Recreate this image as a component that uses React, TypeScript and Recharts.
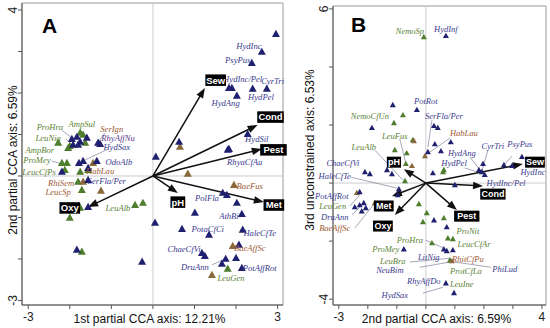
import React from 'react';
import { ScatterChart, Scatter, XAxis, YAxis, ReferenceLine, ReferenceDot, ReferenceArea, Label } from 'recharts';

type P = [number, number];

// ---------- Panel A ----------
const aNavy: P[] = [
  [-1.95, 0.89], [-1.83, 0.94], [-1.75, 0.82], [-1.92, 0.75], [-1.59, 0.92], [-1.8, 0.75], [-1.32, 0.8], [-1.27, 0.77],
  [-1.68, 0.36], [-1.78, 0.31], [-1.35, 0.36], [-2.19, 0.1], [-1.56, 0.19], [-1.56, -0.1], [-1.56, -0.75], [-1.83, -1.78],
  [2.96, 3.42], [2.62, 2.99], [2.38, 2.72], [1.83, 2.12], [1.9, 2.12], [2.02, 1.93], [2.4, 2.1], [2.74, 2.1], [2.28, 1.01],
  [1.83, 0.65], [0.63, 0.82], [0.07, 0.46], [1.8, 0.63], [1.68, -0.41], [1.78, -0.46], [2.02, -0.65], [1.01, -0.89],
  [2.14, -0.92], [0.05, -1.13], [0.7, -1.28], [1.35, -1.42], [2.16, -1.3], [2.07, -1.66], [1.18, -1.86], [1.25, -1.93],
  [1.75, -2.0], [2.0, -1.98], [1.66, -2.12], [2.14, -2.22], [-0.26, -2.07],
];
const aGreen: P[] = [
  [-2.28, 0.8], [-1.75, 1.04], [-1.68, 0.99], [-2.0, 0.72], [-1.63, 0.8], [-2.04, 0.67], [-2.19, 0.31], [-2.07, 0.31],
  [-2.12, 0.14], [-1.75, 0.1], [-1.56, 0.14], [-1.8, -0.14], [-1.71, -0.34], [-1.75, -0.77], [-2.0, -1.01], [-1.71, -1.83],
  [-0.43, -0.7], [-0.24, -0.65], [1.8, -2.24],
];
const aBrown: P[] = [
  [-1.44, 0.31], [-1.68, -0.14], [-1.25, -0.36], [0.65, 0.7], [0.84, 0.05], [1.95, -0.22], [1.92, -1.69], [1.42, -2.39],
];
const aEnvNames = ['Sew', 'Cond', 'Pest', 'Met', 'pH', 'Oxy'];
const aEnvTips: P[] = [[1.25, 2.12], [2.52, 1.23], [2.62, 0.65], [2.67, -0.63], [0.6, -0.41], [-1.56, -0.75]];
const aEnvLabelPos: P[] = [[1.51, 2.31], [2.83, 1.42], [2.9, 0.63], [2.91, -0.7], [0.6, -0.63], [-2.0, -0.77]];
const aLabelText = [
  'ProHra', 'LeuNig', 'AmpSul', 'AmpBor', 'ProMey', 'LeucCfPs', 'SerIgn', 'RhyAffNu', 'HydSax', 'OdoAlb', 'HabLau',
  'SerFla/Per', 'RhiSem', 'LeucSp', 'LeuAlb', 'HydInc', 'PsyPus', 'HydInc/Pel', 'CyrTri', 'HydAng', 'HydPel', 'HydSil',
  'RhyaCfAu', 'BaeFus', 'PolFla', 'AthBi', 'PotaCfCi', 'HaleCfTe', 'BaeAffSc', 'ChaeCfVi', 'DruAnn', 'PotAffRot', 'LeuGen',
];
const aLabelPos: P[] = [
  [-2.48, 1.17], [-2.52, 0.92], [-1.71, 1.25], [-2.72, 0.62], [-2.79, 0.37], [-2.74, 0.09], [-0.99, 1.14], [-0.84, 0.91],
  [-0.87, 0.69], [-0.82, 0.34], [-1.27, 0.12], [-1.11, -0.12], [-2.21, -0.17], [-2.28, -0.38], [-0.84, -0.77], [2.31, 3.13],
  [2.04, 2.8], [2.16, 2.34], [2.88, 2.29], [1.75, 1.76], [2.6, 1.9], [2.5, 0.89], [2.21, 0.34], [2.33, -0.24], [1.3, -0.53],
  [1.83, -0.96], [1.32, -1.28], [2.57, -1.37], [2.33, -1.73], [0.75, -1.76], [1.01, -2.19], [2.57, -2.22], [1.88, -2.46],
];
const aLabelTone = [
  'g', 'g', 'g', 'g', 'g', 'g', 'b', 'p', 'n', 'n', 'b', 'n', 'b', 'b', 'g', 'n', 'n', 'n', 'n', 'n', 'n', 'n', 'n', 'b',
  'n', 'n', 'n', 'n', 'b', 'n', 'n', 'n', 'g',
];
const aLeaders: [P, P][] = [
  [[-2.19, 1.1], [-1.88, 0.87]], [[-2.1, 0.9], [-1.95, 0.75]], [[-2.43, 0.36], [-2.19, 0.29]], [[-1.15, 1.04], [-1.32, 0.82]],
  [[-1.09, 0.64], [-1.63, 0.39]], [[1.42, -2.14], [1.75, -2.0]],
];
const aXTicks = [-3, -2, -1, 0, 1, 2, 3];
const aYTicks = [-3, -2, -1, 0, 1, 2, 3, 4];
const aXDomain: P = [-3.15, 3.13];
const aYDomain: P = [-3.11, 4.17];

// ---------- Panel B ----------
const bNavy: P[] = [
  [0.69, 5.07], [-0.31, 2.52], [0.28, 1.97], [0.41, 1.9], [0.31, 1.34], [0.86, 1.41], [0.52, 1.1], [0.07, 1.07], [3.31, 0.9],
  [-1.14, 2.69], [-1.86, 1.9], [-2.1, 0.38], [-1.93, 0.31], [-1.34, 0.45], [-1.17, 0.31], [-0.93, -0.21], [-0.97, -0.41],
  [-2.28, -0.31], [-2.45, -0.83], [-2.28, -0.76], [-2.14, -0.69], [-2.07, -0.86], [-2.21, -0.97], [-0.76, -2.28],
  [1.97, 0.66], [1.83, 0.45], [1.93, 0.38], [2.03, 0.28], [2.69, 0.62], [2.97, 0.59], [0.24, 0.34], [1.0, -0.07],
  [0.28, -1.28], [0.72, -1.52], [0.62, -2.28], [0.72, -2.34], [0.93, -2.31], [0.69, -3.45], [0.97, -3.79],
];
const bGreen: P[] = [
  [-0.07, 5.03], [-0.79, 2.34], [-1.1, 2.07], [-0.45, 1.48], [-0.66, 1.03], [-1.07, 1.14], [-0.69, 0.66], [-0.72, 0.07],
  [0.59, 0.38], [0.62, 0.45], [-0.24, -0.72], [0.03, -1.03], [-0.1, -1.34], [0.62, -1.21], [0.76, -1.9], [0.93, -1.93],
  [0.21, -2.07], [0.83, -2.66],
];
const bBrown: P[] = [[-0.41, 1.45], [-0.03, 0.93], [-0.48, 0.59], [-2.38, -0.34], [-1.76, -0.69], [0.9, -2.69]];
const bEnvNames = ['Sew', 'Cond', 'Pest', 'pH', 'Met', 'Oxy'];
const bEnvTips: P[] = [[3.34, 0.66], [1.97, -0.1], [1.07, -0.93], [-0.76, 0.48], [-1.17, -0.45], [-1.07, -1.1]];
const bEnvLabelPos: P[] = [[3.76, 0.72], [2.31, -0.38], [1.41, -1.14], [-1.1, 0.72], [-1.45, -0.79], [-1.48, -1.48]];
const bLabelText = [
  'NemoSp', 'HydInf', 'PotRot', 'SerFla/Per', 'HabLau', 'HydAng', 'CyrTri', 'PsyPus', 'HydPel', 'HydInc', 'HydInc/Pel',
  'NemoCfUn', 'LeuFus', 'LeuAlb', 'ChaeCfVi', 'HaleCfTe', 'PotAffRot', 'LeuGen', 'DruAnn', 'BaeAffSc', 'ProHra', 'ProMey',
  'LeuBra', 'LitNig', 'NeuBim', 'RhitCfPu', 'ProtCfLa', 'PhiLud', 'RhyAffDo', 'LeuIne', 'HydSax', 'ProNit', 'LeucCfAr',
];
const bLabelPos: P[] = [
  [-0.55, 5.24], [0.69, 5.31], [0.0, 2.83], [0.62, 2.31], [1.31, 1.72], [1.24, 1.03], [2.31, 1.28], [3.24, 1.34], [0.97, 0.69],
  [3.69, 0.38], [2.76, 0.0], [-1.93, 2.31], [-1.07, 1.62], [-2.14, 1.24], [-2.86, 0.69], [-3.14, 0.24], [-3.24, -0.45],
  [-3.21, -0.79], [-3.14, -1.17], [-3.14, -1.55], [-0.55, -1.97], [-1.38, -2.28], [-1.14, -2.69], [0.1, -2.55], [-1.24, -3.0],
  [1.45, -2.62], [1.38, -3.03], [2.72, -2.97], [-0.07, -3.38], [1.24, -3.48], [-1.07, -3.86], [1.45, -1.66], [1.66, -2.1],
];
const bLabelTone = [
  'g', 'n', 'n', 'n', 'b', 'n', 'n', 'n', 'n', 'n', 'n', 'g', 'g', 'g', 'n', 'n', 'n', 'g', 'n', 'b', 'g', 'g', 'g', 'n', 'n',
  'b', 'g', 'n', 'n', 'g', 'n', 'g', 'g',
];
const bLeaders: [P, P][] = [
  [[0.21, 2.17], [0.07, 1.24]], [[0.83, 1.55], [0.14, 1.07]], [[1.52, 0.9], [1.86, 0.45]], [[2.14, 1.14], [1.93, 0.41]],
  [[2.97, 0.93], [2.69, 0.62]], [[1.34, 0.52], [1.79, 0.38]], [[-2.62, 0.21], [-1.0, -0.17]], [[-2.62, -0.79], [-2.28, -0.41]],
  [[-2.55, -1.1], [-2.21, -0.76]], [[-2.45, -1.55], [-1.76, -0.69]], [[-0.9, 1.52], [-0.69, 0.69]], [[-1.76, 1.14], [-0.79, 0.1]],
  [[0.0, -1.97], [0.62, -2.24]], [[-0.55, -2.72], [0.83, -2.59]], [[-0.21, -2.9], [0.83, -2.72]], [[2.24, -2.9], [1.0, -2.72]],
  [[-0.1, -3.79], [0.59, -3.59]],
];
const bXTicks = [-3, -2, -1, 0, 1, 2, 3, 4];
const bYTicks = [-4, -2, 0, 2, 4, 6];
const bXDomain: P = [-3.2, 4.14];
const bYDomain: P = [-4.2, 6.1];

// ---------- styles ----------
const TRI: Record<string, string> = { n: '#202070', g: '#4d7d2d', b: '#8a683a' };
const TXT: Record<string, string> = { n: '#3a3a8e', g: '#5b8236', b: '#9d5834', p: '#5e3a8e' };
const SANS = '"Liberation Sans", Arial, sans-serif';
const SERIF = '"Liberation Serif", "Times New Roman", serif';

const triShape = (color: string, s: number) => (p: any) => {
  const { cx, cy } = p;
  if (cx == null || cy == null) return <g />;
  const h = s * 0.9;
  return (
    <polygon
      points={`${cx},${cy - h * 0.6} ${cx - s / 2},${cy + h * 0.4} ${cx + s / 2},${cy + h * 0.4}`}
      fill={color}
    />
  );
};

const arrowShape = (p: any) => {
  const x1 = Number(p.x1), y1 = Number(p.y1), x2 = Number(p.x2), y2 = Number(p.y2);
  const dx = x2 - x1, dy = y2 - y1;
  const len = Math.hypot(dx, dy) || 1;
  const ux = dx / len, uy = dy / len;
  const hl = 10, hw = 3.8;
  const bx = x2 - ux * hl, by = y2 - uy * hl;
  return (
    <g>
      <line x1={x1} y1={y1} x2={bx + ux * 2} y2={by + uy * 2} stroke="#111" strokeWidth={1.5} />
      <polygon points={`${x2},${y2} ${bx - uy * hw},${by + ux * hw} ${bx + uy * hw},${by - ux * hw}`} fill="#111" />
    </g>
  );
};

const leaderShape = (color: string) => (p: any) => (
  <line x1={p.x1} y1={p.y1} x2={p.x2} y2={p.y2} stroke={color} strokeWidth={0.6} />
);

const envBox = (name: string, fs: number) => (p: any) => {
  const { cx, cy } = p;
  const w = name.length * fs * 0.62 + 3;
  const h = fs + 2;
  return (
    <g>
      <rect x={cx - w / 2} y={cy - h / 2} width={w} height={h} fill="#000" />
      <text x={cx} y={cy + fs * 0.36} textAnchor="middle" fill="#fff" fontFamily={SANS} fontWeight="bold" fontSize={fs}>
        {name}
      </text>
    </g>
  );
};

const speciesText = (name: string, color: string, fs: number) => (p: any) => (
  <text x={p.cx} y={p.cy + fs * 0.33} textAnchor="middle" fill={color} fontFamily={SERIF} fontStyle="italic" fontSize={fs}>
    {name}
  </text>
);

type PanelProps = {
  left: number; width: number; marginTop: number; marginRight: number; yAxisWidth: number;
  navy: P[]; green: P[]; brown: P[]; envNames: string[]; envTips: P[]; envLabelPos: P[];
  labelText: string[]; labelPos: P[]; labelTone: string[]; leaders: [P, P][];
  xTicks: number[]; yTicks: number[]; xDomain: P; yDomain: P; xTitle: string; yTitle: string;
  triSize: number; envFs: number; labelFs: number; yTitleX: number; yTitleY: number; xTitleDx: number;
};

function Panel(pp: PanelProps) {
  const xEnds = [pp.xTicks[0], pp.xTicks[pp.xTicks.length - 1]];
  const yEnds = [pp.yTicks[0], pp.yTicks[pp.yTicks.length - 1]];
  const toPts = (a: P[]) => a.map(([x, y]) => ({ x, y }));
  const yTick = (t: any) => {
    const v = t.payload.value;
    if (!yEnds.includes(v)) return <g />;
    return (
      <text transform={`translate(${t.x + 1},${t.y}) rotate(-90)`} textAnchor="middle" fontFamily={SANS} fontSize={12} fill="#222">
        {String(v)}
      </text>
    );
  };
  const xTick = (t: any) => {
    const v = t.payload.value;
    if (!xEnds.includes(v)) return <g />;
    return (
      <text x={t.x} y={t.y + 10} textAnchor="middle" fontFamily={SANS} fontSize={12} fill="#222">
        {String(v)}
      </text>
    );
  };
  const xTitle = (props: any) => {
    const vb = props.viewBox;
    return (
      <text x={vb.x + vb.width / 2 + pp.xTitleDx} y={vb.y + 18} textAnchor="middle" fontFamily={SANS} fontSize={12} fill="#111">
        {pp.xTitle}
      </text>
    );
  };
  const yTitle = () => (
    <text transform={`translate(${pp.yTitleX},${pp.yTitleY}) rotate(-90)`} textAnchor="middle" fontFamily={SANS} fontSize={12} fill="#111">
      {pp.yTitle}
    </text>
  );
  return (
    <div style={{ position: 'absolute', left: pp.left, top: 0 }}>
      <ScatterChart
        width={pp.width}
        height={328}
        margin={{ top: pp.marginTop, right: pp.marginRight, left: 0, bottom: 0 }}
        style={{ overflow: 'visible' }}
      >
        <XAxis
          type="number" dataKey="x" domain={pp.xDomain} ticks={pp.xTicks} allowDataOverflow
          height={23} tick={xTick} tickSize={4} stroke="#555" interval={0}
        >
          <Label content={xTitle} />
        </XAxis>
        <YAxis
          type="number" dataKey="y" domain={pp.yDomain} ticks={pp.yTicks} allowDataOverflow
          width={pp.yAxisWidth} tick={yTick} tickSize={4} stroke="#555" interval={0}
        >
          <Label content={yTitle} />
        </YAxis>
        <ReferenceArea
          x1={pp.xDomain[0]} x2={pp.xDomain[1]} y1={pp.yDomain[0]} y2={pp.yDomain[1]}
          fill="none" stroke="#9a9a9a" strokeWidth={1} ifOverflow="visible"
        />
        <ReferenceLine x={0} stroke="#c0c0c0" strokeWidth={0.8} />
        <ReferenceLine y={0} stroke="#c0c0c0" strokeWidth={0.8} />
        {pp.leaders.map((l, i) => (
          <ReferenceLine
            key={'ld' + i}
            segment={[{ x: l[0][0], y: l[0][1] }, { x: l[1][0], y: l[1][1] }]}
            ifOverflow="visible"
            shape={leaderShape('#6a6a8a')}
          />
        ))}
        <Scatter data={toPts(pp.green)} shape={triShape(TRI.g, pp.triSize)} isAnimationActive={false} />
        <Scatter data={toPts(pp.brown)} shape={triShape(TRI.b, pp.triSize)} isAnimationActive={false} />
        <Scatter data={toPts(pp.navy)} shape={triShape(TRI.n, pp.triSize)} isAnimationActive={false} />
        {pp.envTips.map((t, i) => (
          <ReferenceLine
            key={'ar' + i}
            segment={[{ x: 0, y: 0 }, { x: t[0], y: t[1] }]}
            ifOverflow="visible"
            shape={arrowShape}
          />
        ))}
        {pp.labelText.map((s, i) => (
          <ReferenceDot
            key={'lb' + i}
            x={pp.labelPos[i][0]} y={pp.labelPos[i][1]}
            ifOverflow="visible"
            shape={speciesText(s, TXT[pp.labelTone[i]], pp.labelFs)}
          />
        ))}
        {pp.envNames.map((s, i) => (
          <ReferenceDot
            key={'ev' + i}
            x={pp.envLabelPos[i][0]} y={pp.envLabelPos[i][1]}
            ifOverflow="visible"
            shape={envBox(s, pp.envFs)}
          />
        ))}
      </ScatterChart>
    </div>
  );
}

export default function App() {
  return (
    <div style={{ position: 'absolute', left: 0, top: 0, width: 550, height: 328, background: '#fff', overflow: 'hidden' }}>
      <Panel
        left={0} width={290} marginTop={3} marginRight={7} yAxisWidth={22}
        navy={aNavy} green={aGreen} brown={aBrown} envNames={aEnvNames} envTips={aEnvTips} envLabelPos={aEnvLabelPos}
        labelText={aLabelText} labelPos={aLabelPos} labelTone={aLabelTone} leaders={aLeaders}
        xTicks={aXTicks} yTicks={aYTicks} xDomain={aXDomain} yDomain={aYDomain}
        xTitle="1st partial CCA axis: 12.21%" yTitle="2nd partial CCA axis: 6.59%"
        triSize={8} envFs={9.5} labelFs={8.6} yTitleX={17} yTitleY={160} xTitleDx={-3}
      />
      <Panel
        left={300} width={250} marginTop={6} marginRight={4} yAxisWidth={33}
        navy={bNavy} green={bGreen} brown={bBrown} envNames={bEnvNames} envTips={bEnvTips} envLabelPos={bEnvLabelPos}
        labelText={bLabelText} labelPos={bLabelPos} labelTone={bLabelTone} leaders={bLeaders}
        xTicks={bXTicks} yTicks={bYTicks} xDomain={bXDomain} yDomain={bYDomain}
        xTitle="2nd partial CCA axis: 6.59%" yTitle="3rd unconstrained axis: 6.53%"
        triSize={6} envFs={9} labelFs={8.5} yTitleX={14} yTitleY={150} xTitleDx={-3}
      />
      <div style={{ position: 'absolute', left: 42, top: 15, fontFamily: SANS, fontWeight: 'bold', fontSize: 21, lineHeight: 1 }}>A</div>
      <div style={{ position: 'absolute', left: 351, top: 14, fontFamily: SANS, fontWeight: 'bold', fontSize: 21, lineHeight: 1 }}>B</div>
    </div>
  );
}
